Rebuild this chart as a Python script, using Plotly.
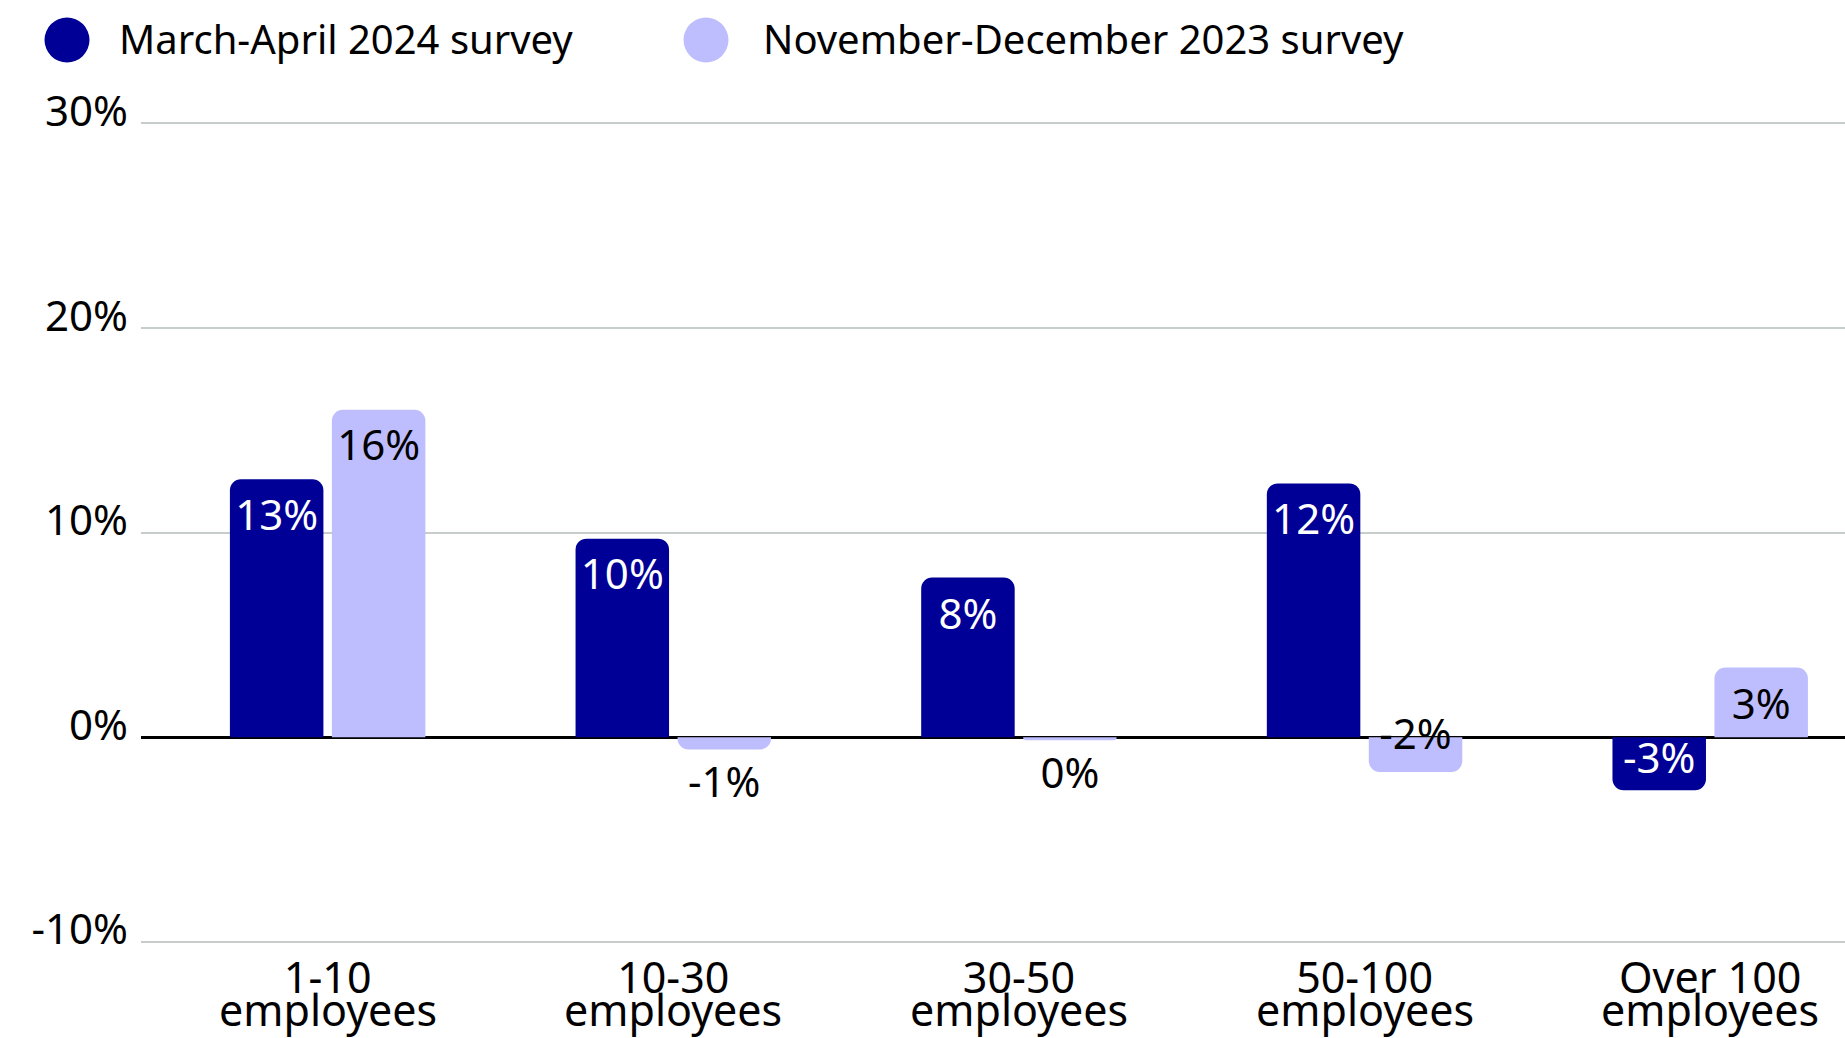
import plotly.graph_objects as go

categories = ["1-10", "10-30", "30-50", "50-100", "Over 100"]
label_line2 = ["employees", "employees", "employees", "employees", "employees"]
series_names = ["March-April 2024 survey", "November-December 2023 survey"]
mar_apr_2024 = [12.6, 9.7, 7.8, 12.4, -2.6]
nov_dec_2023 = [16.0, -0.6, -0.15, -1.7, 3.4]
y_ticks = [-10, 0, 10, 20, 30]

DARK = "#000096"
LIGHT = "#bebefe"
FONT = "Noto Sans"

W, H = 1845, 1038
ML, MR, MT, MB = 141, 0, 122, 95
X_RANGE = [-0.54, 4.39]
Y_RANGE = [-10.06, 30.06]


def labels(vals):
    return [f"{int(round(v))}%" for v in vals]


def positions(vals):
    return ["outside" if abs(v) < 1 else "inside" for v in vals]


fig = go.Figure()
for vals, name, color, txtcol in [
    (mar_apr_2024, series_names[0], DARK, "white"),
    (nov_dec_2023, series_names[1], LIGHT, "black"),
]:
    fig.add_trace(go.Bar(
        x=categories, y=vals, name=name,
        marker=dict(color=color, line=dict(width=0), cornerradius=11),
        text=labels(vals), textposition=positions(vals),
        insidetextanchor="end", constraintext="none", textangle=0,
        insidetextfont=dict(family=FONT, size=42, color=txtcol),
        outsidetextfont=dict(family=FONT, size=42, color="black"),
        cliponaxis=False, showlegend=False, hoverinfo="skip",
    ))


def px_to_paper_x(px):
    return (px - ML) / (W - ML - MR)


def px_to_paper_y(py):
    return (H - MB - py) / (H - MB - MT)


shapes = []
annotations = []
# custom legend with large circular swatches
for cx, tx, name, color in [(67, 117, series_names[0], DARK), (706, 761, series_names[1], LIGHT)]:
    shapes.append(dict(type="circle", xref="paper", yref="paper",
                       xsizemode="pixel", ysizemode="pixel",
                       xanchor=px_to_paper_x(cx), yanchor=px_to_paper_y(40),
                       x0=-22.5, x1=22.5, y0=-22.5, y1=22.5,
                       fillcolor=color, line=dict(width=0)))
    annotations.append(dict(text=name, xref="paper", yref="paper",
                            x=px_to_paper_x(tx), y=px_to_paper_y(39),
                            xanchor="left", yanchor="middle", showarrow=False,
                            font=dict(family=FONT, size=40, color="black")))

# second line of the category labels (tight line spacing)
for cat, line2 in zip(categories, label_line2):
    annotations.append(dict(text=line2, xref="x", yref="paper", x=cat, y=0,
                            xanchor="center", yanchor="top", yshift=-35,
                            showarrow=False,
                            font=dict(family=FONT, size=43, color="black")))

fig.update_layout(
    width=W, height=H,
    margin=dict(l=ML, r=MR, t=MT, b=MB, autoexpand=False),
    paper_bgcolor="white", plot_bgcolor="white",
    barmode="group", bargap=0.41, bargroupgap=0.083,
    uniformtext=dict(minsize=42, mode="show"),
    font=dict(family=FONT, size=40, color="black"),
    shapes=shapes, annotations=annotations,
    showlegend=False,
    xaxis=dict(type="category", categoryorder="array", categoryarray=categories,
               range=X_RANGE, showgrid=False, zeroline=False, showline=False,
               ticks="", tickfont=dict(family=FONT, size=43, color="black"),
               ticklabelstandoff=6, fixedrange=True),
    yaxis=dict(range=Y_RANGE, tickmode="array", tickvals=y_ticks,
               ticktext=[f"{v}%" for v in y_ticks],
               showgrid=True, gridcolor="#c6cdca", gridwidth=1.5,
               zeroline=True, zerolinecolor="black", zerolinewidth=2.5,
               showline=False, ticks="",
               tickfont=dict(family=FONT, size=42, color="black"),
               ticklabelstandoff=12, ticklabelshift=-12, fixedrange=True),
)

fig.write_html("out.html", config={"displayModeBar": False})
